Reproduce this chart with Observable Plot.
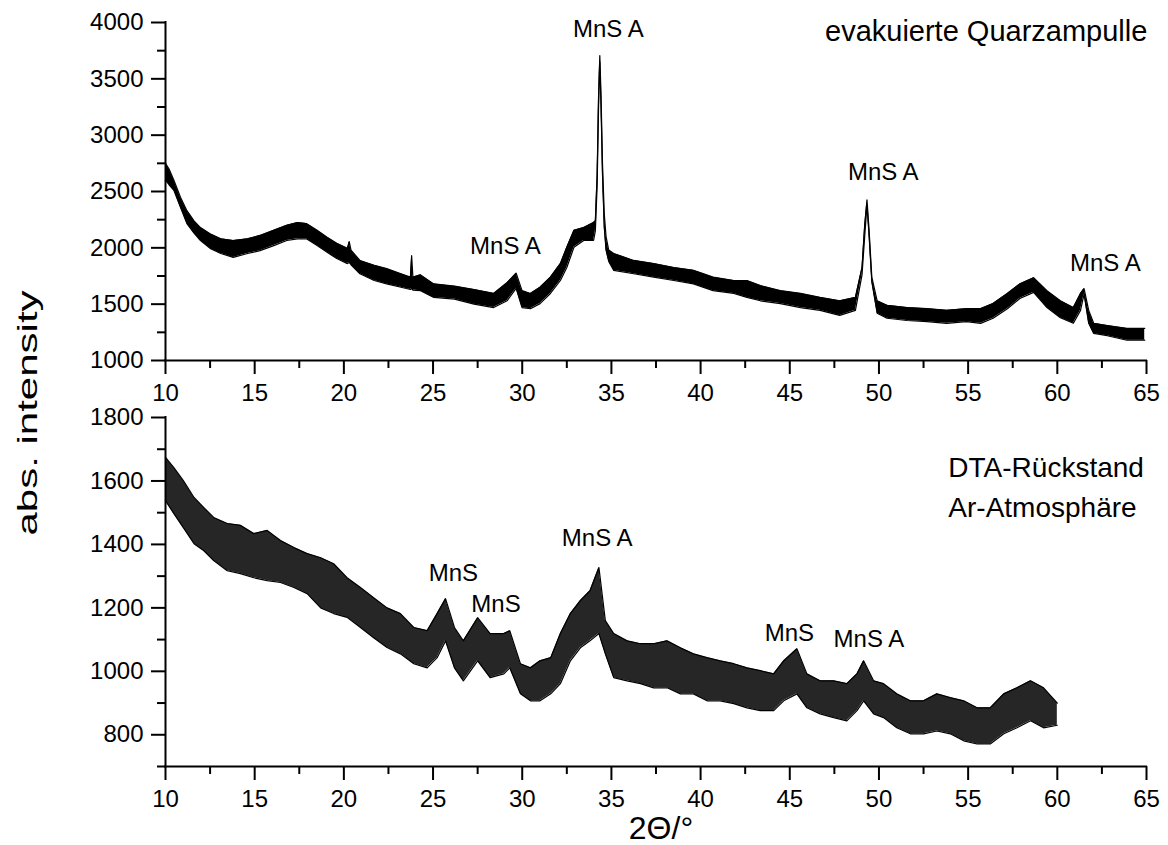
<!DOCTYPE html>
<html><head><meta charset="utf-8">
<script src="https://cdn.jsdelivr.net/npm/d3@7"></script>
<script src="https://cdn.jsdelivr.net/npm/@observablehq/plot@0.6"></script>
<style>
body{margin:0;background:#fff;}
#wrap{position:relative;width:1168px;height:845px;font-family:"Liberation Sans",Arial,sans-serif;color:#000;overflow:hidden;}
#top,#bottom{position:absolute;left:0;}
#top{top:0}
#bottom{top:400px}
svg{overflow:visible}
#ytitle{position:absolute;left:28px;top:413px;font-size:28px;line-height:1;white-space:nowrap;transform:translate(-50%,-50%) rotate(-90deg) scaleX(1.5);}
#xtitle{position:absolute;left:661px;top:812px;font-size:32px;line-height:32px;white-space:nowrap;transform:translateX(-50%);}
</style></head>
<body>
<div id="wrap"><div id="top"></div><div id="bottom"></div><div id="ytitle">abs. intensity</div><div id="xtitle">2Θ/°</div></div>
<script>
// ---- axis ticks ----
const xMajor = [10, 15, 20, 25, 30, 35, 40, 45, 50, 55, 60, 65];
const xMinor = [12.5, 17.5, 22.5, 27.5, 32.5, 37.5, 42.5, 47.5, 52.5, 57.5, 62.5];
const topYMajor = [1000, 1500, 2000, 2500, 3000, 3500, 4000];
const topYMinor = [1250, 1750, 2250, 2750, 3250, 3750];
const botYMajor = [800, 1000, 1200, 1400, 1600, 1800];
const botYMinor = [700, 900, 1100, 1300, 1500, 1700];

// ---- top pattern: evakuierte Quarzampulle (2θ, lower and upper edge of the noisy trace) ----
const topX  = [10.0, 10.2, 10.47, 10.84, 11.2, 11.6, 11.96, 12.5, 13.1, 13.8, 14.6, 15.3, 16.07, 16.8, 17.4, 17.9, 18.5, 19.06, 19.6, 20.2, 20.3, 20.4, 20.9, 21.7, 22.4, 23.2, 23.73, 23.8, 23.87, 24.3, 25.04, 26.2, 27.3, 28.4, 29.15, 29.66, 29.99, 30.46, 31.0, 31.58, 32.14, 32.5, 32.9, 33.45, 34.0, 34.1, 34.2, 34.28, 34.35, 34.42, 34.5, 34.6, 34.7, 34.85, 35.13, 36.25, 37.37, 38.5, 39.6, 40.7, 41.86, 42.6, 43.35, 44.47, 45.6, 46.7, 47.8, 48.68, 49.05, 49.2, 49.33, 49.45, 49.6, 49.9, 50.45, 51.57, 52.7, 53.8, 54.9, 55.7, 56.4, 57.2, 57.9, 58.67, 59.42, 60.17, 60.9, 61.3, 61.5, 61.76, 62.04, 62.8, 63.9, 64.9];
const topLo = [2600, 2560, 2510, 2360, 2215, 2130, 2065, 1995, 1950, 1915, 1950, 1975, 2020, 2065, 2080, 2080, 2020, 1960, 1905, 1860, 1870, 1850, 1770, 1710, 1680, 1650, 1630, 1640, 1625, 1620, 1560, 1545, 1500, 1470, 1530, 1640, 1470, 1460, 1505, 1595, 1710, 1825, 2005, 2065, 2065, 2150, 2550, 3250, 3650, 3250, 2650, 2180, 1980, 1880, 1800, 1770, 1740, 1710, 1680, 1620, 1595, 1560, 1530, 1505, 1470, 1445, 1400, 1445, 1760, 2100, 2380, 2100, 1700, 1420, 1375, 1355, 1345, 1330, 1345, 1330, 1375, 1460, 1550, 1605, 1470, 1380, 1330, 1445, 1590, 1330, 1240, 1220, 1180, 1180];
const topHi = [2750, 2700, 2600, 2450, 2330, 2240, 2180, 2125, 2080, 2065, 2080, 2110, 2155, 2200, 2225, 2215, 2155, 2095, 2040, 1995, 2055, 1980, 1888, 1845, 1815, 1770, 1740, 1930, 1740, 1760, 1680, 1660, 1630, 1595, 1690, 1775, 1620, 1595, 1650, 1740, 1860, 2005, 2155, 2180, 2225, 2240, 2650, 3350, 3707, 3350, 2750, 2300, 2100, 1980, 1950, 1888, 1860, 1825, 1800, 1740, 1710, 1710, 1665, 1620, 1595, 1560, 1530, 1560, 1825, 2200, 2425, 2150, 1740, 1530, 1490, 1470, 1460, 1445, 1460, 1460, 1505, 1595, 1680, 1735, 1620, 1530, 1470, 1595, 1638, 1445, 1330, 1310, 1285, 1285];

// ---- bottom pattern: DTA-Rückstand, Ar-Atmosphäre ----
const botX  = [10.0, 10.47, 11.0, 11.6, 12.15, 12.7, 13.46, 14.2, 14.95, 15.7, 16.45, 17.2, 17.94, 18.7, 19.43, 20.18, 20.93, 21.67, 22.42, 23.17, 23.92, 24.67, 25.23, 25.7, 26.2, 26.7, 27.5, 28.2, 28.97, 29.3, 29.9, 30.46, 31.0, 31.6, 32.14, 32.7, 33.26, 33.8, 34.3, 34.66, 35.13, 35.88, 36.63, 37.37, 38.12, 38.87, 39.6, 40.36, 41.1, 41.86, 42.6, 43.35, 44.1, 44.66, 45.4, 45.96, 46.7, 47.46, 48.2, 48.77, 49.14, 49.7, 50.26, 51.0, 51.76, 52.5, 53.25, 54.0, 54.75, 55.5, 56.24, 57.0, 57.74, 58.5, 59.23, 60.0];
const botLo = [1538, 1497, 1453, 1402, 1380, 1349, 1317, 1308, 1295, 1286, 1280, 1264, 1245, 1200, 1182, 1170, 1138, 1106, 1075, 1055, 1024, 1011, 1043, 1096, 1011, 970, 1033, 980, 992, 1011, 929, 907, 907, 929, 961, 1033, 1074, 1096, 1119, 1055, 980, 970, 961, 948, 948, 929, 929, 907, 907, 898, 885, 876, 876, 907, 929, 885, 866, 854, 844, 876, 907, 866, 854, 822, 803, 803, 812, 803, 781, 771, 771, 803, 822, 844, 822, 830];
const botHi = [1674, 1642, 1601, 1548, 1516, 1485, 1466, 1460, 1434, 1444, 1412, 1390, 1371, 1358, 1339, 1295, 1264, 1232, 1200, 1182, 1138, 1128, 1182, 1229, 1138, 1096, 1169, 1119, 1119, 1128, 1024, 1011, 1033, 1043, 1119, 1182, 1223, 1254, 1327, 1160, 1119, 1096, 1087, 1087, 1096, 1074, 1055, 1043, 1033, 1024, 1011, 1002, 992, 1033, 1071, 992, 970, 970, 961, 992, 1033, 970, 961, 929, 907, 907, 929, 917, 907, 885, 885, 929, 948, 970, 948, 900];

// ---- annotations ----
const topPeakLabelX = [34.83, 29.06, 50.24, 62.69];
const topPeakLabelY = [3938, 2012, 2669, 1861];
const topPeakLabelText = ["MnS A", "MnS A", "MnS A", "MnS A"];
const topSampleX = [65.05];
const topSampleY = [3920];
const topSampleText = ["evakuierte Quarzampulle"];

const botPeakLabelX = [34.2, 26.14, 28.53, 44.98, 49.44];
const botPeakLabelY = [1420, 1309, 1210, 1120, 1100];
const botPeakLabelText = ["MnS A", "MnS", "MnS", "MnS", "MnS A"];
const botSampleX = [53.89, 53.89];
const botSampleY = [1642, 1516];
const botSampleText = ["DTA-Rückstand", "Ar-Atmosphäre"];

const FONT = '"Liberation Sans", Arial, Helvetica, sans-serif';

function panel(o) {
  const data = o.xs.map((x, i) => ({x, lo: o.lo[i], hi: o.hi[i]}));
  const peaks = o.lx.map((x, i) => ({x, y: o.ly[i], t: o.lt[i]}));
  const samples = o.sx.map((x, i) => ({x, y: o.sy[i], t: o.st[i]}));
  return Plot.plot({
    width: 1168, height: o.height,
    marginLeft: 165, marginRight: 22, marginTop: o.marginTop, marginBottom: o.marginBottom,
    style: {fontFamily: FONT, fontSize: "24px", color: "#000", background: "transparent", overflow: "visible"},
    x: {domain: [10, 65], axis: null},
    y: {domain: o.yDomain, axis: null},
    marks: [
      Plot.areaY(data, {x: "x", y1: "lo", y2: "hi", fill: "#000", fillOpacity: o.fillOpacity}),
      Plot.line(data, {x: "x", y: "lo", stroke: "#000", strokeWidth: 1.2}),
      Plot.line(data, {x: "x", y: "hi", stroke: "#000", strokeWidth: 1.2}),
      Plot.axisX(xMajor, {tickSize: 14, tickPadding: 9, tickFormat: d => String(d), strokeWidth: 2, label: null}),
      Plot.axisX(xMinor, {tickSize: 8, tickFormat: () => "", strokeWidth: 2, label: null}),
      Plot.axisY(o.yMajor, {tickSize: 14, tickPadding: 8, tickFormat: d => String(d), strokeWidth: 2, label: null}),
      Plot.axisY(o.yMinor, {tickSize: 8, tickFormat: () => "", strokeWidth: 2, label: null}),
      Plot.ruleX([10], {stroke: "#000", strokeWidth: 2, strokeLinecap: "square"}),
      Plot.ruleY([o.yDomain[0]], {stroke: "#000", strokeWidth: 2, strokeLinecap: "square"}),
      Plot.text(peaks, {x: "x", y: "y", text: "t", fontSize: 24, fill: "#000"}),
      Plot.text(samples, {x: "x", y: "y", text: "t", fontSize: o.sSize, fill: "#000", textAnchor: o.sAnchor})
    ]
  });
}

document.getElementById("top").append(panel({
  xs: topX, lo: topLo, hi: topHi, yDomain: [1000, 4000], yMajor: topYMajor, yMinor: topYMinor,
  height: 400, marginTop: 22, marginBottom: 40, fillOpacity: 1,
  lx: topPeakLabelX, ly: topPeakLabelY, lt: topPeakLabelText,
  sx: topSampleX, sy: topSampleY, st: topSampleText, sAnchor: "end", sSize: 29
}));
document.getElementById("bottom").append(panel({
  xs: botX, lo: botLo, hi: botHi, yDomain: [700, 1800], yMajor: botYMajor, yMinor: botYMinor,
  height: 445, marginTop: 17, marginBottom: 79, fillOpacity: 0.85,
  lx: botPeakLabelX, ly: botPeakLabelY, lt: botPeakLabelText,
  sx: botSampleX, sy: botSampleY, st: botSampleText, sAnchor: "start", sSize: 28
}));
</script>
</body></html>
